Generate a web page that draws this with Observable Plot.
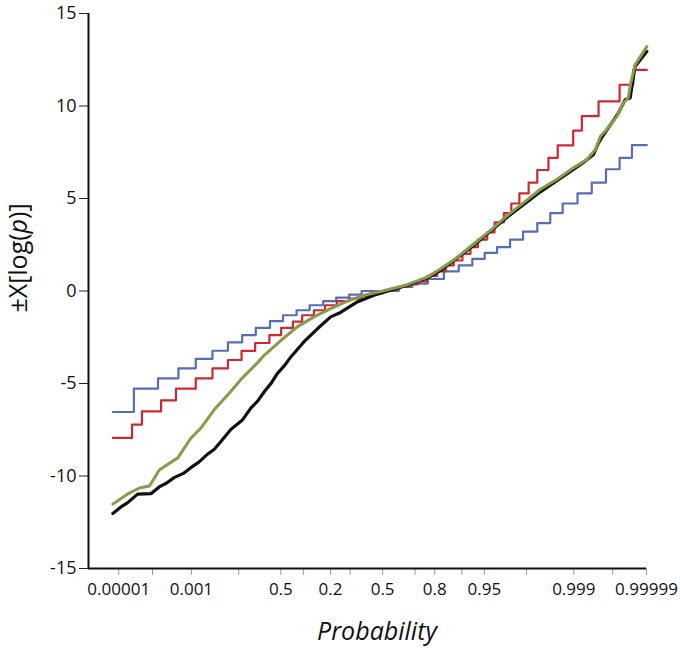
<!DOCTYPE html>
<html>
<head>
<meta charset="utf-8">
<script src="https://cdn.jsdelivr.net/npm/d3@7"></script>
<script src="https://cdn.jsdelivr.net/npm/@observablehq/plot@0.6"></script>
<style>
  html, body { margin: 0; padding: 0; background: #fff; }
  #chart { width: 680px; height: 650px; }
</style>
</head>
<body>
<div id="chart"></div>
<script>
// ---- Data (x given as standard-normal quantile of the probability) ----
const blueZ = [-4.36,-4.02,-3.63,-3.30,-3.02,-2.75,-2.50,-2.27,-2.05,-1.82,-1.61,-1.39,-1.18,-0.96,-0.75,-0.54,-0.34,0.26,0.48,0.73,0.99,1.23,1.45,1.65,1.85,2.06,2.27,2.50,2.71,2.91,3.15,3.38,3.61,3.83,4.03,4.27];
const blueY = [-6.54,-5.28,-4.72,-4.18,-3.67,-3.23,-2.78,-2.38,-1.99,-1.63,-1.31,-1.04,-0.77,-0.55,-0.36,-0.20,0.0,0.22,0.40,0.65,1.06,1.38,1.74,2.06,2.37,2.78,3.21,3.67,4.21,4.73,5.28,5.86,6.58,7.20,7.89,7.89];

const redZ = [-4.36,-4.05,-3.89,-3.58,-3.34,-3.02,-2.75,-2.50,-2.28,-2.06,-1.83,-1.64,-1.45,-1.30,-1.11,-0.93,-0.74,-0.54,-0.33,-0.16,0.0,0.10,0.27,0.42,0.57,0.72,0.88,1.02,1.15,1.29,1.42,1.54,1.69,1.81,1.96,2.08,2.21,2.36,2.50,2.68,2.83,3.08,3.22,3.49,3.83,4.05,4.27];
const redY = [-7.94,-7.22,-6.51,-5.91,-5.28,-4.72,-4.18,-3.73,-3.24,-2.81,-2.38,-1.99,-1.65,-1.31,-1.04,-0.77,-0.55,-0.41,-0.27,-0.13,0.0,0.10,0.22,0.36,0.52,0.81,1.06,1.38,1.65,2.01,2.37,2.78,3.17,3.71,4.21,4.73,5.28,5.86,6.54,7.20,7.87,8.67,9.45,10.25,11.15,11.95,11.95];

const blackZ = [-4.36,-4.24,-4.12,-3.96,-3.74,-3.61,-3.49,-3.37,-3.22,-3.10,-2.97,-2.83,-2.72,-2.61,-2.45,-2.27,-2.13,-2.02,-1.91,-1.80,-1.70,-1.59,-1.48,-1.27,-1.05,-0.84,-0.68,-0.41,-0.14,0.13,0.40,0.72,0.94,1.47,2.01,2.55,3.09,3.24,3.41,3.49,3.56,3.81,3.92,4.00,4.08,4.27];
const blackY = [-12.03,-11.70,-11.44,-10.98,-10.95,-10.59,-10.38,-10.09,-9.86,-9.55,-9.25,-8.82,-8.55,-8.12,-7.47,-6.99,-6.33,-5.95,-5.43,-4.98,-4.45,-4.05,-3.55,-2.74,-2.03,-1.40,-1.16,-0.59,-0.23,0.04,0.31,0.70,1.11,2.46,3.98,5.36,6.58,6.94,7.38,8.01,8.39,9.62,10.34,10.43,12.13,12.94];

const greenZ = [-4.36,-4.12,-3.93,-3.77,-3.69,-3.61,-3.47,-3.31,-3.10,-2.94,-2.72,-2.50,-2.29,-2.02,-1.91,-1.65,-1.38,-1.11,-0.84,-0.57,-0.30,0.0,0.40,0.72,0.94,1.21,1.47,1.74,2.01,2.28,2.55,2.82,3.09,3.30,3.44,3.52,3.62,3.79,3.89,3.97,4.01,4.08,4.27];
const greenY = [-11.52,-10.97,-10.65,-10.54,-10.12,-9.68,-9.37,-9.02,-7.96,-7.42,-6.41,-5.61,-4.78,-3.87,-3.46,-2.69,-1.94,-1.40,-0.95,-0.55,-0.23,0.0,0.34,0.75,1.20,1.83,2.54,3.26,4.07,4.78,5.50,6.04,6.67,7.11,7.65,8.37,8.73,9.45,10.16,10.43,11.24,12.22,13.21];

const tickProbs  = [0.00001,0.0001,0.001,0.01,0.05,0.1,0.2,0.3,0.5,0.7,0.8,0.9,0.95,0.99,0.999,0.9999,0.99999];
const tickLabels = ["0.00001","","0.001","","0.5","","0.2","","0.5","","0.8","","0.95","","0.999","","0.99999"];
const yTicks = [-15,-10,-5,0,5,10,15];
const domainProbs = [0.000001, 0.99999];

// ---- inverse normal CDF (Acklam) ----
function probit(p) {
  const a=[-3.969683028665376e+01,2.209460984245205e+02,-2.759285104469687e+02,1.383577518672690e+02,-3.066479806614716e+01,2.506628277459239e+00];
  const b=[-5.447609879822406e+01,1.615858368580409e+02,-1.556989798598866e+02,6.680131188771972e+01,-1.328068155288572e+01];
  const c=[-7.784894002430293e-03,-3.223964580411365e-01,-2.400758277161838e+00,-2.549732539343734e+00,4.374664141464968e+00,2.938163982698783e+00];
  const d=[7.784695709041462e-03,3.224671290700398e-01,2.445134137142996e+00,3.754408661907416e+00];
  const pl = 0.02425, ph = 1 - pl;
  if (p < pl) { const q = Math.sqrt(-2*Math.log(p)); return (((((c[0]*q+c[1])*q+c[2])*q+c[3])*q+c[4])*q+c[5])/((((d[0]*q+d[1])*q+d[2])*q+d[3])*q+1); }
  if (p <= ph) { const q = p - 0.5, r = q*q; return (((((a[0]*r+a[1])*r+a[2])*r+a[3])*r+a[4])*r+a[5])*q/(((((b[0]*r+b[1])*r+b[2])*r+b[3])*r+b[4])*r+1); }
  const q = Math.sqrt(-2*Math.log(1-p)); return -(((((c[0]*q+c[1])*q+c[2])*q+c[3])*q+c[4])*q+c[5])/((((d[0]*q+d[1])*q+d[2])*q+d[3])*q+1);
}

const rows = (zs, ys) => zs.map((z, i) => ({z, y: ys[i]}));
const blue = rows(blueZ, blueY), red = rows(redZ, redY), black = rows(blackZ, blackY), green = rows(greenZ, greenY);

const tickZ = tickProbs.map(probit);
const labelOf = new Map(tickZ.map((z, i) => [z, tickLabels[i]]));
const xDomain = domainProbs.map(probit);

const font = "'Open Sans', 'DejaVu Sans', sans-serif";

const svg = Plot.plot({
  width: 680, height: 650,
  marginLeft: 88, marginRight: 34, marginTop: 13, marginBottom: 82,
  style: {fontFamily: font, background: "white", color: "#111"},
  x: {domain: xDomain, axis: null},
  y: {domain: [-15, 15], axis: null},
  marks: [
    Plot.axisY(yTicks, {tickSize: 9, tickPadding: 3, fontSize: 18, tickFormat: d => String(d), label: null, stroke: "#222", fill: "#111"}),
    Plot.axisX(tickZ, {tickSize: 7, tickPadding: 7, fontSize: 17, tickFormat: z => labelOf.get(z), label: null, stroke: "#9a9a9a", fill: "#111"}),
    Plot.line(blue, {x: "z", y: "y", curve: "step-after", stroke: "#556eb4", strokeWidth: 2.2}),
    Plot.line(red, {x: "z", y: "y", curve: "step-after", stroke: "#cc2a30", strokeWidth: 2.2}),
    Plot.line(black, {x: "z", y: "y", stroke: "#111", strokeWidth: 3.2, strokeLinejoin: "round"}),
    Plot.line(green, {x: "z", y: "y", stroke: "#879b4b", strokeWidth: 3, strokeLinejoin: "round"}),
    Plot.ruleX([xDomain[0]], {y1: -15, y2: 15, stroke: "#111", strokeWidth: 2}),
    Plot.ruleY([-15], {x1: xDomain[0], x2: xDomain[1], stroke: "#111", strokeWidth: 2})
  ]
});

const s = d3.select(svg);
const yt = s.append("text")
  .attr("transform", "translate(27,258) rotate(-90)")
  .attr("text-anchor", "middle")
  .attr("font-size", 25)
  .attr("font-family", font)
  .attr("fill", "#111");
yt.append("tspan").text("±X[log(");
yt.append("tspan").attr("font-style", "italic").text("p");
yt.append("tspan").text(")]");

s.append("text")
  .attr("x", 377).attr("y", 640)
  .attr("text-anchor", "middle")
  .attr("font-size", 25)
  .attr("font-style", "italic")
  .attr("font-family", font)
  .attr("fill", "#111")
  .text("Probability");

document.getElementById("chart").appendChild(svg);
</script>
</body>
</html>
